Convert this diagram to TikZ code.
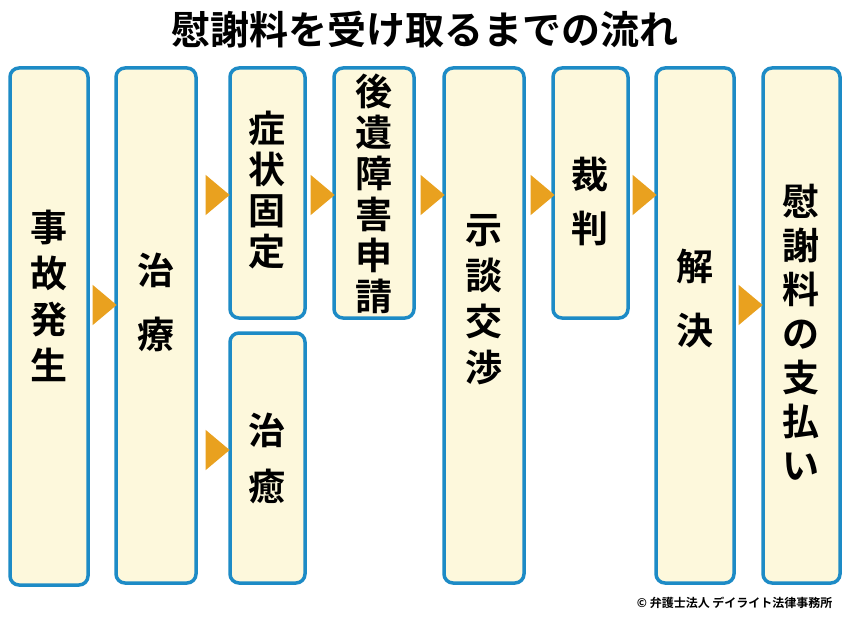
\documentclass[tikz,border=0pt]{standalone}
\usepackage{fontspec}
\newfontfamily\cjk{Noto Sans CJK JP}[BoldFont={* Bold}]
\usetikzlibrary{shapes.geometric}
\definecolor{boxblue}{HTML}{1D8BC6}
\definecolor{boxfill}{HTML}{FDF8DC}
\definecolor{arrow}{HTML}{E9A11F}
\tikzset{
  stage/.style={draw=boxblue, fill=boxfill, line width=3.5pt, rounded corners=9pt, inner sep=0pt},
  label/.style={align=center, font=\cjk\bfseries\fontsize{37}{#1}\selectfont},
  label/.default=46,
  tri/.style={isosceles triangle, isosceles triangle apex angle=80, fill=arrow, inner sep=0pt,
    minimum height=24pt, minimum width=30pt, anchor=center}
}
\begin{document}
\begin{tikzpicture}[x=1pt,y=-1pt]
  \useasboundingbox[fill=white] (0,0) rectangle (850,620);
  \node[font=\cjk\bfseries\fontsize{39}{44}\selectfont] (title) at (425,30) {慰謝料を受け取るまでの流れ};
  % boxes
  \draw[stage] (10,68) rectangle (88,585);
  \draw[stage] (116,68) rectangle (196,583);
  \draw[stage] (230,68) rectangle (305,318);
  \draw[stage] (230,333) rectangle (305,583);
  \draw[stage] (334,68) rectangle (414,318);
  \draw[stage] (444,68) rectangle (524,583);
  \draw[stage] (553,68) rectangle (628,318);
  \draw[stage] (656,68) rectangle (734,583);
  \draw[stage] (763,68) rectangle (840,583);
  % labels
  \node[label] (jiko) at (49,296) {事\\故\\発\\生};
  \node[label=64] (chiryo) at (156,302) {治\\療};
  \node[label=41] (kotei) at (267,190) {症\\状\\固\\定};
  \node[label=56] (chiyu) at (267,458) {治\\癒};
  \node[label=41] (shinsei) at (374,194) {後\\遺\\障\\害\\申\\請};
  \node[label=46] (jidan) at (484,300) {示\\談\\交\\渉};
  \node[label=54] (saiban) at (590,201) {裁\\判};
  \node[label=64] (kaiketsu) at (695,298) {解\\決};
  \node[label=44] (shiharai) at (801,332) {慰\\謝\\料\\の\\支\\払\\い};
  % arrows
  \foreach \x/\y in {102/305, 215/195, 215/450, 320/195, 430/195, 540/195, 642/195, 748/305}
    \node[tri] at (\x,\y) {};
  \node[font=\cjk\bfseries\fontsize{12}{14}\selectfont, anchor=east] (copy) at (836,603) {© 弁護士法人 デイライト法律事務所};
\end{tikzpicture}
\end{document}
